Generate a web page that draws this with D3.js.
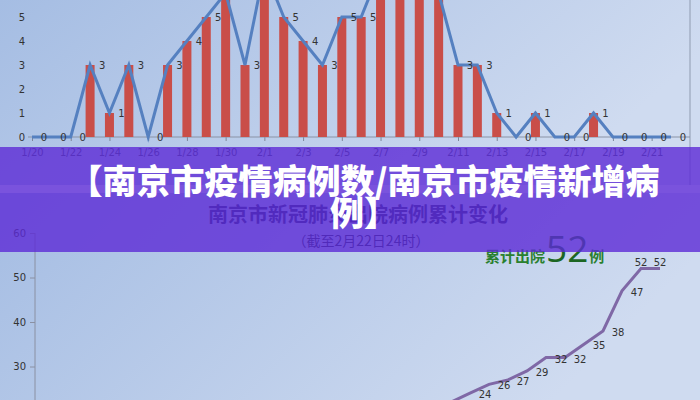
<!DOCTYPE html>
<html>
<head>
<meta charset="utf-8">
<script src="https://cdn.jsdelivr.net/npm/d3@7/dist/d3.min.js"></script>
<style>
  html, body { margin: 0; padding: 0; background: #ffffff; }
  svg { display: block; }
</style>
</head>
<body>
<svg id="chart" width="700" height="400"></svg>
<script>
// ---- data ----
const dates = ["1/20","1/21","1/22","1/23","1/24","1/25","1/26","1/27","1/28","1/29","1/30","1/31",
  "2/1","2/2","2/3","2/4","2/5","2/6","2/7","2/8","2/9","2/10","2/11","2/12","2/13","2/14","2/15",
  "2/16","2/17","2/18","2/19","2/20","2/21","2/22"];
const newCases = [0,0,0,3,1,3,0,3,4,5,6,3,7,5,4,3,5,5,7,7,7,6,3,3,1,0,1,0,0,1,0,0,0,0];
const topTickLabels = ["1/20","1/22","1/24","1/26","1/28","1/30","2/1","2/3","2/5","2/7","2/9",
  "2/11","2/13","2/15","2/17","2/19","2/21"];
const topYTicks = [0,1,2,3,4,5];

const dischargeDates = ["2/11","2/12","2/13","2/14","2/15","2/16","2/17","2/18","2/19","2/20","2/21","2/22"];
const discharged = [22,24,26,27,29,32,32,35,38,47,52,52];
const bottomYTicks = [30,40,50,60];

const bannerLines = ["【南京市疫情病例数/南京市疫情新增病", "例】"];
const bottomTitle = "南京市新冠肺炎出院病例累计变化";
const bottomSubtitle = "（截至2月22日24时）";
const annoPre = "累计出院", annoNum = "52", annoPost = "例";

// ---- drawing ----
const svg = d3.select("#chart");
const defs = svg.append("defs");
const g1 = defs.append("linearGradient").attr("id","bg").attr("x1","0").attr("y1","0").attr("x2","1").attr("y2","0.3");
g1.append("stop").attr("offset","0%").attr("stop-color","#a5bde3");
g1.append("stop").attr("offset","100%").attr("stop-color","#cfdbf0");

svg.append("rect").attr("x",0).attr("y",0).attr("width",700).attr("height",185).attr("fill","url(#bg)");
svg.append("rect").attr("x",0).attr("y",185).attr("width",700).attr("height",8).attr("fill","#eef2f9");
svg.append("rect").attr("x",0).attr("y",193).attr("width",700).attr("height",207).attr("fill","url(#bg)");

const sans = "'DejaVu Sans', Verdana, sans-serif";
const cjk = "'Noto Sans CJK SC', sans-serif";

// ---- top chart ----
const xTop = d3.scalePoint().domain(dates).range([32, 671]);
const yTop = d3.scaleLinear().domain([0, 5]).range([137, 17]);

svg.append("line").attr("x1",690).attr("x2",690).attr("y1",0).attr("y2",185)
  .attr("stroke","#8f9bb0").attr("stroke-width",1);

const xAxisTop = svg.append("g").attr("transform","translate(0,137)")
  .call(d3.axisBottom(xTop).tickValues(topTickLabels).tickSize(4).tickPadding(8));
xAxisTop.select(".domain").remove();
xAxisTop.selectAll(".tick line").attr("stroke","#7d8698");
xAxisTop.selectAll("text").attr("font-family",sans).attr("font-size",10).attr("fill","#404a66");
svg.append("line").attr("x1",28).attr("x2",690).attr("y1",137).attr("y2",137)
  .attr("stroke","#8a93a6").attr("stroke-width",1);

const yAxisTop = svg.append("g").attr("transform","translate(28,0)")
  .call(d3.axisLeft(yTop).tickValues(topYTicks).tickSize(0).tickPadding(3).tickFormat(d3.format("d")));
yAxisTop.select(".domain").remove();
yAxisTop.selectAll("text").attr("font-family",sans).attr("font-size",10).attr("fill","#333");

svg.append("g").selectAll("rect").data(newCases).join("rect")
  .attr("x",(d,i)=>xTop(dates[i]) - 4.5)
  .attr("width",9)
  .attr("y",d=>yTop(d))
  .attr("height",d=>yTop(0) - yTop(d))
  .attr("fill","#c94e49");

svg.append("path").datum(newCases)
  .attr("d", d3.line().x((d,i)=>xTop(dates[i])).y(d=>yTop(d)))
  .attr("fill","none").attr("stroke","#5580c0").attr("stroke-width",3).attr("stroke-linejoin","miter");

// labels of values beyond the cropped top edge are not visible in the picture
const topLabels = newCases.map((v,i)=>({v, date: dates[i]})).filter(d => yTop(d.v) >= 8);
svg.append("g").selectAll("text").data(topLabels).join("text")
  .attr("x",d=>xTop(d.date) + 12)
  .attr("y",d=>yTop(d.v) + 4)
  .attr("text-anchor","middle")
  .attr("font-family",sans).attr("font-size",10).attr("fill","#333")
  .text(d=>d.v);

// ---- bottom chart ----
const xBot = d3.scalePoint().domain(dates).range([33, 660]);
const yBot = d3.scaleLinear().domain([20, 60]).range([411, 233]);

const yAxisBot = svg.append("g").attr("transform","translate(35,0)")
  .call(d3.axisLeft(yBot).tickValues(bottomYTicks).tickSize(5).tickPadding(4));
yAxisBot.select(".domain").remove();
yAxisBot.selectAll(".tick line").attr("stroke","#8a90a2");
yAxisBot.selectAll("text").attr("font-family",sans).attr("font-size",10).attr("fill","#333");
svg.append("line").attr("x1",35).attr("x2",35).attr("y1",233).attr("y2",400)
  .attr("stroke","#8a90a2").attr("stroke-width",1);

svg.append("path").datum(discharged)
  .attr("d", d3.line().x((d,i)=>xBot(dischargeDates[i])).y(d=>yBot(d)))
  .attr("fill","none").attr("stroke","#7f68a6").attr("stroke-width",3);

const maxD = d3.max(discharged);
// labels below the cropped bottom edge are not visible in the picture
const botLabels = discharged.map((v,i)=>({v, date: dischargeDates[i]})).filter(d => yBot(d.v) + 5 <= 400);
svg.append("g").selectAll("text").data(botLabels).join("text")
  .attr("x",d=> d.v === maxD ? xBot(d.date) : xBot(d.date) + 15)
  .attr("y",d=> d.v === maxD ? yBot(d.v) - 3 : yBot(d.v) + 5)
  .attr("text-anchor","middle")
  .attr("font-family",sans).attr("font-size",10).attr("fill","#333")
  .text(d=>d.v);

svg.append("text").attr("x",358).attr("y",222).attr("text-anchor","middle")
  .attr("font-family",cjk).attr("font-weight","bold").attr("font-size",20).attr("fill","#232a60")
  .text(bottomTitle);
svg.append("text").attr("x",361).attr("y",246).attr("text-anchor","middle")
  .attr("font-family",cjk).attr("font-size",14).attr("fill","#23284a")
  .text(bottomSubtitle);

const anno = svg.append("text").attr("x",485).attr("y",262)
  .attr("font-family",cjk).attr("fill","#2a8030");
anno.append("tspan").attr("font-size",15).attr("font-weight","bold").text(annoPre);
anno.append("tspan").attr("font-size",37).attr("fill","#1c6623").attr("font-family","'Open Sans', sans-serif").attr("dx",1).text(annoNum);
anno.append("tspan").attr("font-size",15).attr("font-weight","bold").attr("dx",1).text(annoPost);

// ---- banner overlay ----
svg.append("rect").attr("x",0).attr("y",147).attr("width",700).attr("height",105)
  .attr("fill","rgb(92,42,214)").attr("fill-opacity",0.8);

svg.selectAll("text.banner").data(bannerLines).join("text").attr("class","banner")
  .attr("x",364).attr("y",(d,i)=>194 + i*32)
  .attr("text-anchor","middle")
  .attr("font-family",cjk).attr("font-weight",900).attr("font-size",34).attr("fill","#ffffff")
  .text(d=>d);
</script>
</body>
</html>
